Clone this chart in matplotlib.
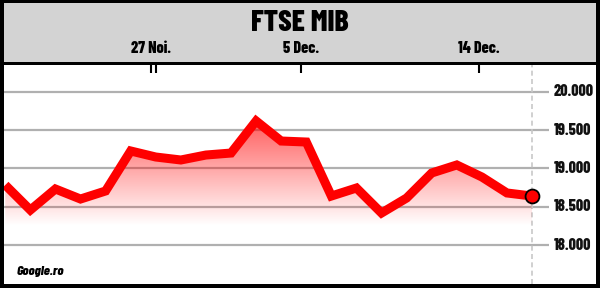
import matplotlib
matplotlib.use("Agg")
import matplotlib.pyplot as plt
import numpy as np
from matplotlib.colors import LinearSegmentedColormap

# FTSE MIB closing values, one per trading day
values = [18784, 18457, 18732, 18601, 18706, 19229, 19150, 19111, 19176, 19202,
          19621, 19359, 19346, 18640, 18745, 18418, 18614, 18941, 19046, 18889,
          18680, 18640]
days = np.arange(len(values))

# date ticks (in trading-day units) and their labels
date_ticks = [5.82, 6.02, 11.79, 18.88]
date_labels = ["27 Noi.", "", "5 Dec.", "14 Dec."]

y_levels = [18000, 18500, 19000, 19500, 20000]
y_labels = ["18.000", "18.500", "19.000", "19.500", "20.000"]

font = ["Barlow Condensed", "DejaVu Sans"]
red = "#fe0000"

fig = plt.figure(figsize=(6, 2.88), dpi=100)
fig.patch.set_facecolor("black")

# grey header band with the title
hdr = fig.add_axes([4 / 600, (288 - 62) / 288, 592 / 600, 59 / 288])
hdr.set_facecolor("#d3d3d3")
hdr.set_xticks([])
hdr.set_yticks([])
for s in hdr.spines.values():
    s.set_visible(False)
hdr.text(0.5, 0.66, "FTSE MIB", ha="center", va="center", fontsize=21.5,
         fontweight=800, family=font, stretch="condensed",
         transform=hdr.transAxes)

# main plot
ax = fig.add_axes([4 / 600, 4.5 / 288, 592 / 600, 219 / 288])
ax.set_facecolor("white")
for s in ax.spines.values():
    s.set_visible(False)

# horizontal grid lines and their labels
ax.hlines(y_levels, -0.05, 21.67, color="#b0b0b0", lw=1.6, zorder=1)
for v, lab in zip(y_levels, y_labels):
    ax.text(21.85, v, lab, ha="left", va="center", fontsize=11.5,
            fontweight=800, family=font, stretch="condensed",
            color="#111111")

# dashed marker for the last day
ax.axvline(days[-1], color="#c8c8c8", lw=1.2, ls=(0, (3, 2)), zorder=1)

# gradient fill under the line
cmap = LinearSegmentedColormap.from_list(
    "redfade", [(1, 0, 0, 0.0), (1, 0, 0, 0.65)])
grad = np.linspace(0, 1, 256).reshape(-1, 1)
img = ax.imshow(grad, cmap=cmap, origin="lower", aspect="auto",
                extent=[days[0], days[-1], 18250, 19650], zorder=2)
poly = ax.fill_between(days, values, 17497, color="none", lw=0)
img.set_clip_path(poly.get_paths()[0], transform=ax.transData)

ax.plot(days, values, color=red, lw=6.5, solid_joinstyle="miter",
        solid_capstyle="butt", zorder=3)
ax.plot(days[-1], values[-1], "o", color=red, markersize=10,
        markeredgecolor="black", markeredgewidth=1.3, zorder=4)

ax.set_xlim(-0.05, 23.55)
ax.set_ylim(17497, 20359)

# date ticks at the top, labels sit in the header
ax.set_yticks([])
ax.xaxis.tick_top()
ax.set_xticks(date_ticks)
ax.set_xticklabels(date_labels, fontsize=11.5, fontweight=800, family=font,
                   stretch="condensed")
ax.tick_params(axis="x", direction="in", length=5.8, width=1.5,
               color="black", pad=6)

ax.text(0.022, 0.055, "Google.ro", ha="left", va="center", fontsize=10,
        fontweight=800, fontstyle="italic", family=font,
        stretch="condensed", transform=ax.transAxes)

fig.savefig("out.png", dpi=100, facecolor=fig.get_facecolor())
